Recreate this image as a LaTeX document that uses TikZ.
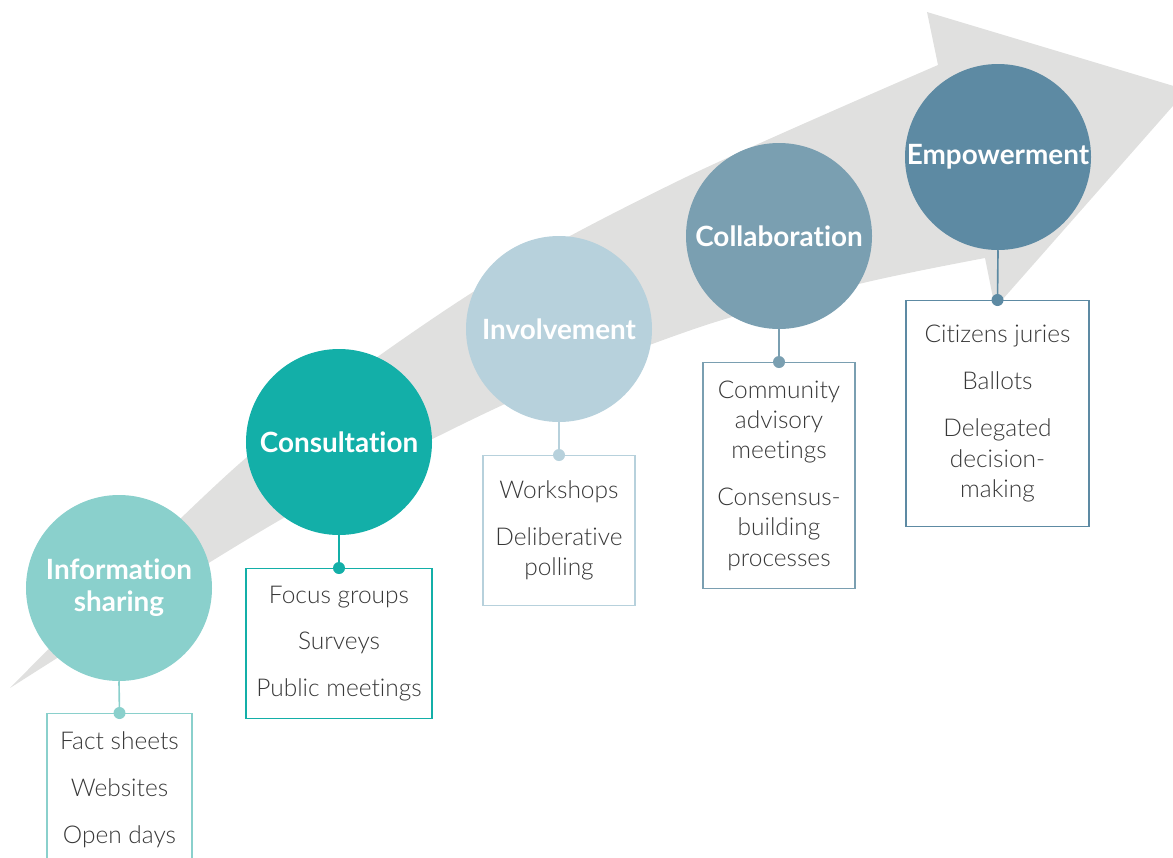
\documentclass[tikz,border=0pt]{standalone}
\usepackage{fontspec}
\setmainfont{Lato}[Ligatures=NoCommon]
\IfFontExistsTF{Lato Light}{\newfontfamily\itemfont{Lato Light}[Ligatures=NoCommon]}{\newfontfamily\itemfont{Lato}[Ligatures=NoCommon]}
\definecolor{infocol}{HTML}{8AD0CC}
\definecolor{consultcol}{HTML}{13AFA8}
\definecolor{involvecol}{HTML}{B7D1DC}
\definecolor{collabcol}{HTML}{7A9FB1}
\definecolor{empowercol}{HTML}{5D8AA3}
\definecolor{arrowgrey}{HTML}{E0E0DF}
\definecolor{textgrey}{HTML}{383838}

\begin{document}
\begin{tikzpicture}[x=0.03cm, y=-0.03cm,
        stage/.style={circle, minimum size=5.58cm, inner sep=0pt, text=white, align=center, font=\fontsize{23.8}{27.3}\selectfont\bfseries},
        itembox/.style={draw, line width=1pt, fill=white, anchor=north, align=center, text=textgrey, font=\itemfont\fontsize{20.9}{25.8}\selectfont},
        stem/.style={line width=1.4pt}
    ]
        \useasboundingbox (0,0) rectangle (1173,857);
        \clip (0,0) rectangle (1173,857);
        % big grey arrow behind the stages
        \fill[arrowgrey] plot[smooth] coordinates {(10,688) (247,457) (473,292) (680,180) (938,65)}
            -- (927,12) -- (1187,90) -- (995,308)
            -- plot[smooth] coordinates {(985,258) (863,283) (700,327) (507,403) (280,520) (10,688)} -- cycle;
        % stages
        \node[stage, fill=infocol] (info) at (119,588) {Information\\sharing};
        \node[stage, fill=consultcol] (consult) at (339,442) {Consultation};
        \node[stage, fill=involvecol] (involve) at (559,329) {Involvement};
        \node[stage, fill=collabcol] (collab) at (779,236) {Collaboration};
        \node[stage, fill=empowercol] (empower) at (998,157) {Empowerment};
        % method boxes
        \node[itembox, draw=infocol, minimum width=4.35cm, minimum height=4.56cm] (infobox) at (119.5,713) {Fact sheets\\[14.3pt]Websites\\[14.3pt]Open days};
        \node[itembox, draw=consultcol, minimum width=5.58cm, minimum height=4.5cm] (consultbox) at (339,568) {Focus groups\\[14.3pt]Surveys\\[14.3pt]Public meetings};
        \node[itembox, draw=involvecol, minimum width=4.56cm, minimum height=4.5cm] (involvebox) at (559,455) {Workshops\\[14.3pt]Deliberative\\polling};
        \node[itembox, draw=collabcol, minimum width=4.56cm, minimum height=6.78cm] (collabbox) at (779,362) {Community\\advisory\\meetings\\[14.3pt]Consensus-\\building\\processes};
        \node[itembox, draw=empowercol, minimum width=5.49cm, minimum height=6.78cm] (empowerbox) at (997.5,300) {Citizens juries\\[14.3pt]Ballots\\[14.3pt]Delegated\\decision-\\making};
        % stems with dots
        \foreach \s/\c in {info/infocol, consult/consultcol, involve/involvecol, collab/collabcol, empower/empowercol} {
            \draw[stem, \c] (\s.south) -- (\s box.north);
            \fill[\c] (\s box.north) circle (0.18cm);
        }
    \end{tikzpicture}
\end{document}
